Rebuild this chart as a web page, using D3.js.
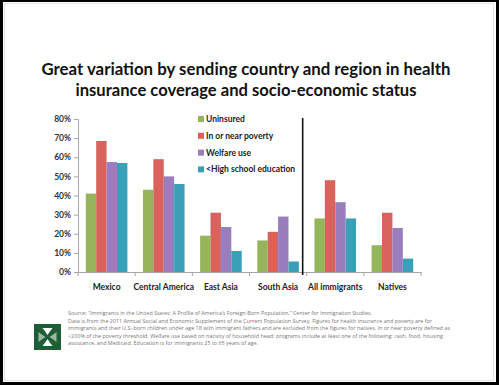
<!DOCTYPE html>
<html><head><meta charset="utf-8">
<script src="https://cdn.jsdelivr.net/npm/d3@7"></script>
<style>
html,body{margin:0;padding:0;background:#000;}
svg{display:block;}
</style></head>
<body>
<script>
const categories = ["Mexico","Central America","East Asia","South Asia","All immigrants","Natives"];
const seriesNames = ["Uninsured","In or near poverty","Welfare use","<High school education"];
const uninsured = [41, 43, 19, 16.5, 28, 14];
const poverty   = [68.5, 59, 31, 21, 48, 31];
const welfare   = [57.5, 50, 23.5, 29, 36.5, 23];
const lessHS    = [57, 46, 11, 5.5, 28, 7];
const yTicks = [0, 10, 20, 30, 40, 50, 60, 70, 80];
const colors = ["#96b55b", "#d8625c", "#9a7dbd", "#3aa0b8"];
const titleLines = ["Great variation by sending country and region in health",
                    "insurance coverage and socio-economic status"];
const noteLines = [
 "Source: \u201cImmigrants in the United States: A Profile of America\u2019s Foreign-Born Population,\u201d Center for Immigration Studies.",
 "Data is from the 2011 Annual Social and Economic Supplement of the Current Population Survey.  Figures for health insurance and poverty are for",
 "immigrants and their U.S.-born children under age 18 with immigrant fathers and are excluded from the figures for natives.  In or near poverty defined as",
 "<200% of the poverty threshold.  Welfare use based on nativity of household head; programs include at least one of the following: cash, food, housing",
 "assistance, and Medicaid.  Education is for immigrants 25 to 65 years of age."
];
const noteWidths = [304, 364, 382, 375, 190];

const series = [uninsured, poverty, welfare, lessHS];
const W = 499, H = 385;
const svg = d3.select("body").append("svg").attr("width", W).attr("height", H);

// frame
svg.append("rect").attr("x", 3).attr("y", 2).attr("width", 493).attr("height", 380).attr("fill", "#fff");
svg.append("rect").attr("x", 4.5).attr("y", 3.5).attr("width", 489).attr("height", 377)
  .attr("fill", "none").attr("stroke", "#e4e4e4").attr("stroke-width", 1);

// title
const titleFont = "Lato, 'Open Sans', sans-serif";
svg.selectAll("text.title").data(titleLines).enter().append("text")
  .attr("class", "title")
  .attr("x", 246).attr("y", (d, i) => 75 + i * 21)
  .attr("text-anchor", "middle")
  .attr("font-family", titleFont).attr("font-weight", "bold").attr("font-size", 17.5)
  .attr("fill", "#111")
  .attr("textLength", (d, i) => i === 0 ? 409 : 341)
  .attr("lengthAdjust", "spacingAndGlyphs")
  .text(d => d);

// scales
const x0 = d3.scaleBand().domain(categories).range([78, 421]).paddingInner(0).paddingOuter(0);
const inner = 41.6 / x0.bandwidth();
const x1 = d3.scaleBand().domain(d3.range(4)).range([(x0.bandwidth() * (1 - inner)) / 2, x0.bandwidth() * (1 + inner) / 2]);
const y = d3.scaleLinear().domain([0, 80]).range([272, 119]);

// bars
const g = svg.append("g");
categories.forEach((c, ci) => {
  series.forEach((s, si) => {
    g.append("rect")
      .attr("x", x0(c) + x1(si))
      .attr("y", y(s[ci]))
      .attr("width", x1.bandwidth())
      .attr("height", y(0) - y(s[ci]))
      .attr("fill", colors[si]);
  });
});

// y axis
const labelFont = "Lato, 'Open Sans', sans-serif";
const yAxis = svg.append("g").attr("transform", "translate(78,0)")
  .call(d3.axisLeft(y).tickValues(yTicks).tickSize(4).tickFormat(d => d + "%"));
yAxis.select(".domain").attr("stroke", "#a6a6a6");
yAxis.selectAll(".tick line").attr("stroke", "#a6a6a6");
yAxis.selectAll(".tick text").attr("font-family", labelFont).attr("font-weight", "bold")
  .attr("font-size", 8.5).attr("fill", "#333").attr("x", -7);

// x axis
const xAxis = svg.append("g").attr("transform", "translate(0,272)")
  .call(d3.axisBottom(x0).tickSize(0).tickSizeOuter(0));
xAxis.select(".domain").attr("stroke", "#a6a6a6");
xAxis.selectAll(".tick text").attr("font-family", labelFont).attr("font-weight", "bold")
  .attr("font-size", 8.5).attr("fill", "#222").attr("dy", 0).attr("y", 18);
// category boundary ticks
const bounds = d3.range(categories.length + 1).map(i => 78 + i * x0.bandwidth());
svg.selectAll("line.bt").data(bounds).enter().append("line")
  .attr("x1", d => d).attr("x2", d => d).attr("y1", 272).attr("y2", 276)
  .attr("stroke", "#a6a6a6");

// separator
const sepX = x0("All immigrants") - 4;
svg.append("line").attr("x1", sepX).attr("x2", sepX).attr("y1", y(80) - 1).attr("y2", y(0) + 3)
  .attr("stroke", "#111").attr("stroke-width", 1.6);

// legend
const leg = svg.append("g");
seriesNames.forEach((n, i) => {
  const yy = 119 + i * 16.8;
  leg.append("rect").attr("x", 198).attr("y", yy - 3).attr("width", 6).attr("height", 6).attr("fill", colors[i]);
  leg.append("text").attr("x", 206).attr("y", yy + 3)
    .attr("font-family", labelFont).attr("font-weight", "bold").attr("font-size", 8.5).attr("fill", "#222")
    .text(n);
});

// footnote
svg.selectAll("text.note").data(noteLines).enter().append("text")
  .attr("class", "note")
  .attr("x", 68).attr("y", (d, i) => 315 + i * 7.5)
  .attr("font-family", "'Open Sans', sans-serif").attr("font-size", 5.4).attr("fill", "#777")
  .attr("textLength", (d, i) => noteWidths[i]).attr("lengthAdjust", "spacingAndGlyphs")
  .text(d => d);

// logo
const logo = svg.append("g").attr("transform", "translate(34,324)");
logo.append("rect").attr("width", 27).attr("height", 26).attr("fill", "#1d5e36");
const cx = 13.5, cy = 13;
logo.append("path").attr("d", `M${cx-5},${cy-9} L${cx+5},${cy-9} L${cx+2},${cy-5} L${cx},${cy-2} L${cx-2},${cy-5} Z`).attr("fill", "#fff");
logo.append("path").attr("d", `M${cx-5},${cy+9} L${cx+5},${cy+9} L${cx+2},${cy+5} L${cx},${cy+2} L${cx-2},${cy+5} Z`).attr("fill", "#fff");
logo.append("path").attr("d", `M${cx-9},${cy-5} L${cx-9},${cy+5} L${cx-5},${cy+2} L${cx-2},${cy} L${cx-5},${cy-2} Z`).attr("fill", "#9bb8a4");
logo.append("path").attr("d", `M${cx+9},${cy-5} L${cx+9},${cy+5} L${cx+5},${cy+2} L${cx+2},${cy} L${cx+5},${cy-2} Z`).attr("fill", "#9bb8a4");
</script>
</body></html>
